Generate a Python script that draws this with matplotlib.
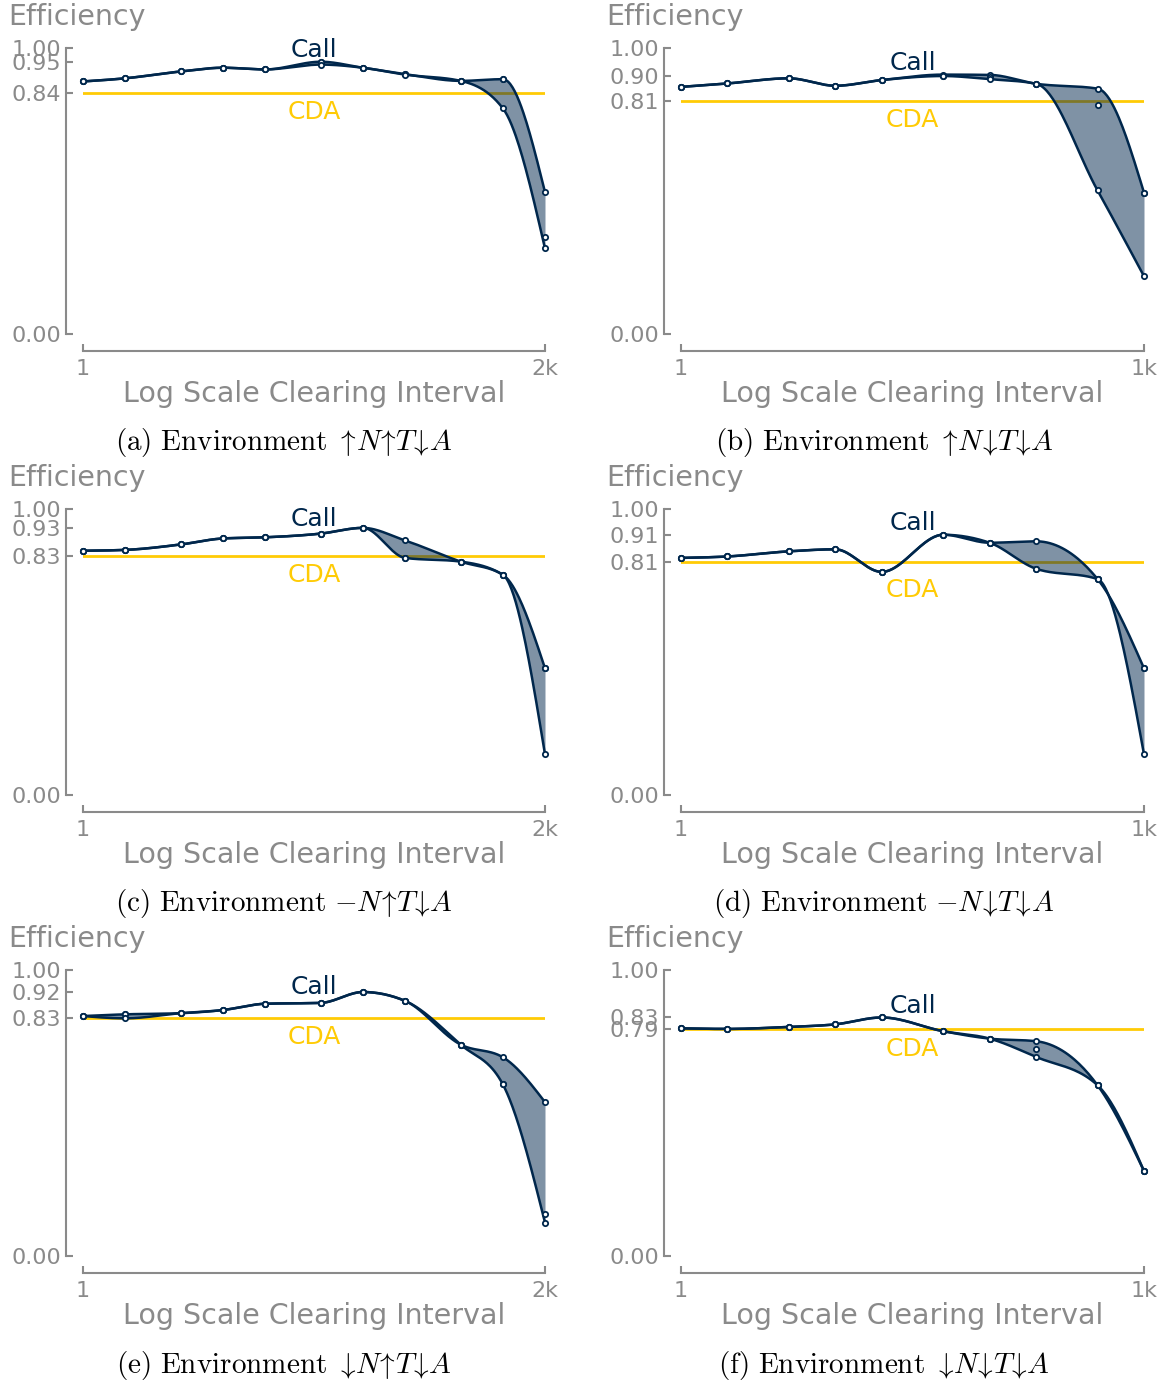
import numpy as np
import matplotlib
matplotlib.use("Agg")
import matplotlib.pyplot as plt

plt.rcParams["mathtext.fontset"] = "cm"

# ---- data ----
x_2k = [1, 2, 5, 10, 20, 50, 100, 200, 500, 1000, 2000]
x_1k = [1, 2, 5, 10, 20, 50, 100, 200, 500, 1000]

# (a) up N, up T, down A
a_hi = [0.883, 0.894, 0.918, 0.931, 0.925, 0.952, 0.931, 0.909, 0.885, 0.891, 0.496]
a_mid = [0.883, 0.894, 0.918, 0.931, 0.925, 0.950, 0.931, 0.909, 0.885, 0.891, 0.340]
a_lo = [0.883, 0.894, 0.918, 0.931, 0.925, 0.942, 0.931, 0.907, 0.885, 0.789, 0.299]
a_cda = 0.843

# (b) up N, down T, down A
b_hi = [0.864, 0.876, 0.894, 0.868, 0.888, 0.907, 0.906, 0.875, 0.858, 0.494]
b_mid = [0.864, 0.876, 0.894, 0.868, 0.888, 0.902, 0.897, 0.875, 0.800, 0.494]
b_lo = [0.864, 0.876, 0.894, 0.868, 0.888, 0.902, 0.891, 0.875, 0.502, 0.202]
b_cda = 0.813

# (c) - N, up T, down A
c_hi = [0.854, 0.857, 0.876, 0.897, 0.901, 0.914, 0.934, 0.890, 0.816, 0.770, 0.443]
c_mid = [0.854, 0.857, 0.876, 0.897, 0.901, 0.914, 0.934, 0.829, 0.816, 0.770, 0.443]
c_lo = [0.854, 0.857, 0.876, 0.897, 0.901, 0.914, 0.934, 0.829, 0.816, 0.770, 0.142]
c_cda = 0.834

# (d) - N, down T, down A
d_hi = [0.829, 0.834, 0.852, 0.859, 0.780, 0.910, 0.882, 0.887, 0.755, 0.443]
d_mid = [0.829, 0.834, 0.852, 0.859, 0.780, 0.910, 0.882, 0.791, 0.755, 0.443]
d_lo = [0.829, 0.834, 0.852, 0.859, 0.780, 0.910, 0.882, 0.791, 0.755, 0.142]
d_cda = 0.814

# (e) down N, up T, down A
e_hi = [0.839, 0.845, 0.849, 0.860, 0.882, 0.885, 0.923, 0.892, 0.739, 0.695, 0.538]
e_mid = [0.839, 0.845, 0.849, 0.860, 0.882, 0.885, 0.923, 0.892, 0.739, 0.600, 0.147]
e_lo = [0.839, 0.831, 0.849, 0.860, 0.882, 0.885, 0.923, 0.892, 0.739, 0.600, 0.117]
e_cda = 0.833

# (f) down N, down T, down A
f_hi = [0.796, 0.794, 0.801, 0.810, 0.834, 0.786, 0.760, 0.751, 0.597, 0.297]
f_mid = [0.796, 0.794, 0.801, 0.810, 0.834, 0.786, 0.760, 0.725, 0.597, 0.297]
f_lo = [0.796, 0.794, 0.801, 0.810, 0.834, 0.786, 0.760, 0.696, 0.597, 0.297]
f_cda = 0.794

captions = [
    r"$\mathrm{(a)\ Environment}\ \uparrow\!N\!\uparrow\!T\!\downarrow\!A$",
    r"$\mathrm{(b)\ Environment}\ \uparrow\!N\!\downarrow\!T\!\downarrow\!A$",
    r"$\mathrm{(c)\ Environment}\ {-}N\!\uparrow\!T\!\downarrow\!A$",
    r"$\mathrm{(d)\ Environment}\ {-}N\!\downarrow\!T\!\downarrow\!A$",
    r"$\mathrm{(e)\ Environment}\ \downarrow\!N\!\uparrow\!T\!\downarrow\!A$",
    r"$\mathrm{(f)\ Environment}\ \downarrow\!N\!\downarrow\!T\!\downarrow\!A$",
]

panels = [
    (x_2k, a_hi, a_mid, a_lo, a_cda, "2k"),
    (x_1k, b_hi, b_mid, b_lo, b_cda, "1k"),
    (x_2k, c_hi, c_mid, c_lo, c_cda, "2k"),
    (x_1k, d_hi, d_mid, d_lo, d_cda, "1k"),
    (x_2k, e_hi, e_mid, e_lo, e_cda, "2k"),
    (x_1k, f_hi, f_mid, f_lo, f_cda, "1k"),
]

NAVY = "#00274c"
MAIZE = "#ffcb05"
GREY = "#8a8a8a"


def monotone_curve(xs, ys, n=40):
    # monotone cubic (like d3 curveMonotoneX) in log-x space, only for drawing
    t = np.log10(np.asarray(xs, float))
    y = np.asarray(ys, float)
    h = np.diff(t)
    s = np.diff(y) / h
    m = np.zeros(len(t))
    for i in range(1, len(t) - 1):
        p = (s[i - 1] * h[i] + s[i] * h[i - 1]) / (h[i - 1] + h[i])
        m[i] = (np.sign(s[i - 1]) + np.sign(s[i])) * min(abs(s[i - 1]), abs(s[i]), 0.5 * abs(p))
    m[0] = (3 * s[0] - m[1]) / 2
    m[-1] = (3 * s[-1] - m[-2]) / 2
    tt, yy = [], []
    for i in range(len(t) - 1):
        u = np.linspace(0, 1, n, endpoint=(i == len(t) - 2))
        h00 = 2 * u**3 - 3 * u**2 + 1
        h10 = u**3 - 2 * u**2 + u
        h01 = -2 * u**3 + 3 * u**2
        h11 = u**3 - u**2
        tt.append(t[i] + u * h[i])
        yy.append(h00 * y[i] + h10 * h[i] * m[i] + h01 * y[i + 1] + h11 * h[i] * m[i + 1])
    return 10 ** np.concatenate(tt), np.concatenate(yy)


W, H = 1171, 1383
fig = plt.figure(figsize=(W / 100, H / 100), dpi=100)

col_left = [83, 681]
col_width = [462, 463]
row_top = [48, 509, 970]
row_h = 286
cap_x = [284, 884]
cap_y = [443, 903, 1365]

for k, (xs, hi, mid, lo, cda, xlab) in enumerate(panels):
    r, c = divmod(k, 2)
    ax = fig.add_axes([col_left[c] / W, 1 - (row_top[r] + row_h) / H, col_width[c] / W, row_h / H])
    xmax = xs[-1]

    sx, shi = monotone_curve(xs, hi)
    _, slo = monotone_curve(xs, lo)

    ax.axhline(cda, color=MAIZE, lw=2.0, zorder=1)
    ax.fill_between(sx, slo, shi, color=NAVY, alpha=0.5, lw=0, zorder=2)
    ax.plot(sx, shi, color=NAVY, lw=1.8, zorder=3, clip_on=False)
    ax.plot(sx, slo, color=NAVY, lw=1.8, zorder=3, clip_on=False)
    for ser in (hi, mid, lo):
        ax.plot(xs, ser, ls="none", marker="o", ms=3.8, mfc="white", mec=NAVY, mew=1.3,
                zorder=4, clip_on=False)

    ax.set_xscale("log")
    ax.set_xlim(1, xmax)
    ax.set_ylim(0, 1)
    ax.minorticks_off()

    peak = max(mid)
    ax.set_yticks([0, cda, peak, 1])
    ax.set_yticklabels(["%.2f" % v for v in [0, cda, peak, 1]])
    ax.set_xticks([1, xmax])
    ax.set_xticklabels(["1", xlab])

    for side in ("top", "right"):
        ax.spines[side].set_visible(False)
    for side in ("left", "bottom"):
        ax.spines[side].set_color(GREY)
        ax.spines[side].set_linewidth(1.5)
        ax.spines[side].set_position(("outward", 12))
    ax.spines["left"].set_bounds(0, 1)
    ax.spines["bottom"].set_bounds(1, xmax)
    ax.tick_params(direction="in", length=5, width=1.5, color=GREY,
                   labelcolor=GREY, labelsize=16)
    ax.tick_params(axis="y", pad=4)
    ax.tick_params(axis="x", pad=6)

    # series labels sit clear of the curves under the text's span
    mid_x = np.sqrt(xmax)
    span = (sx > mid_x / 1.5) & (sx < mid_x * 1.5)
    call_y = shi[span].max()
    cda_y = min(cda, slo[span].min())
    ax.annotate("Call", xy=(mid_x, call_y), xytext=(0, 0), textcoords="offset pixels",
                ha="center", va="bottom", color=NAVY, fontsize=18)
    ax.annotate("CDA", xy=(mid_x, cda_y), xytext=(0, -7), textcoords="offset pixels",
                ha="center", va="top", color=MAIZE, fontsize=18)
    ax.annotate("Efficiency", xy=(0, 1), xycoords="axes fraction", xytext=(-75, 31),
                textcoords="offset pixels", ha="left", va="center", color=GREY, fontsize=20.5)
    ax.annotate("Log Scale Clearing Interval", xy=(0.5, 0), xycoords="axes fraction",
                xytext=(0, -60), textcoords="offset pixels", ha="center", va="center",
                color=GREY, fontsize=20.5)

    fig.text(cap_x[c] / W, 1 - cap_y[r] / H, captions[k], ha="center", va="center",
             fontsize=21, color="black")

fig.savefig("out.png", dpi=100)
